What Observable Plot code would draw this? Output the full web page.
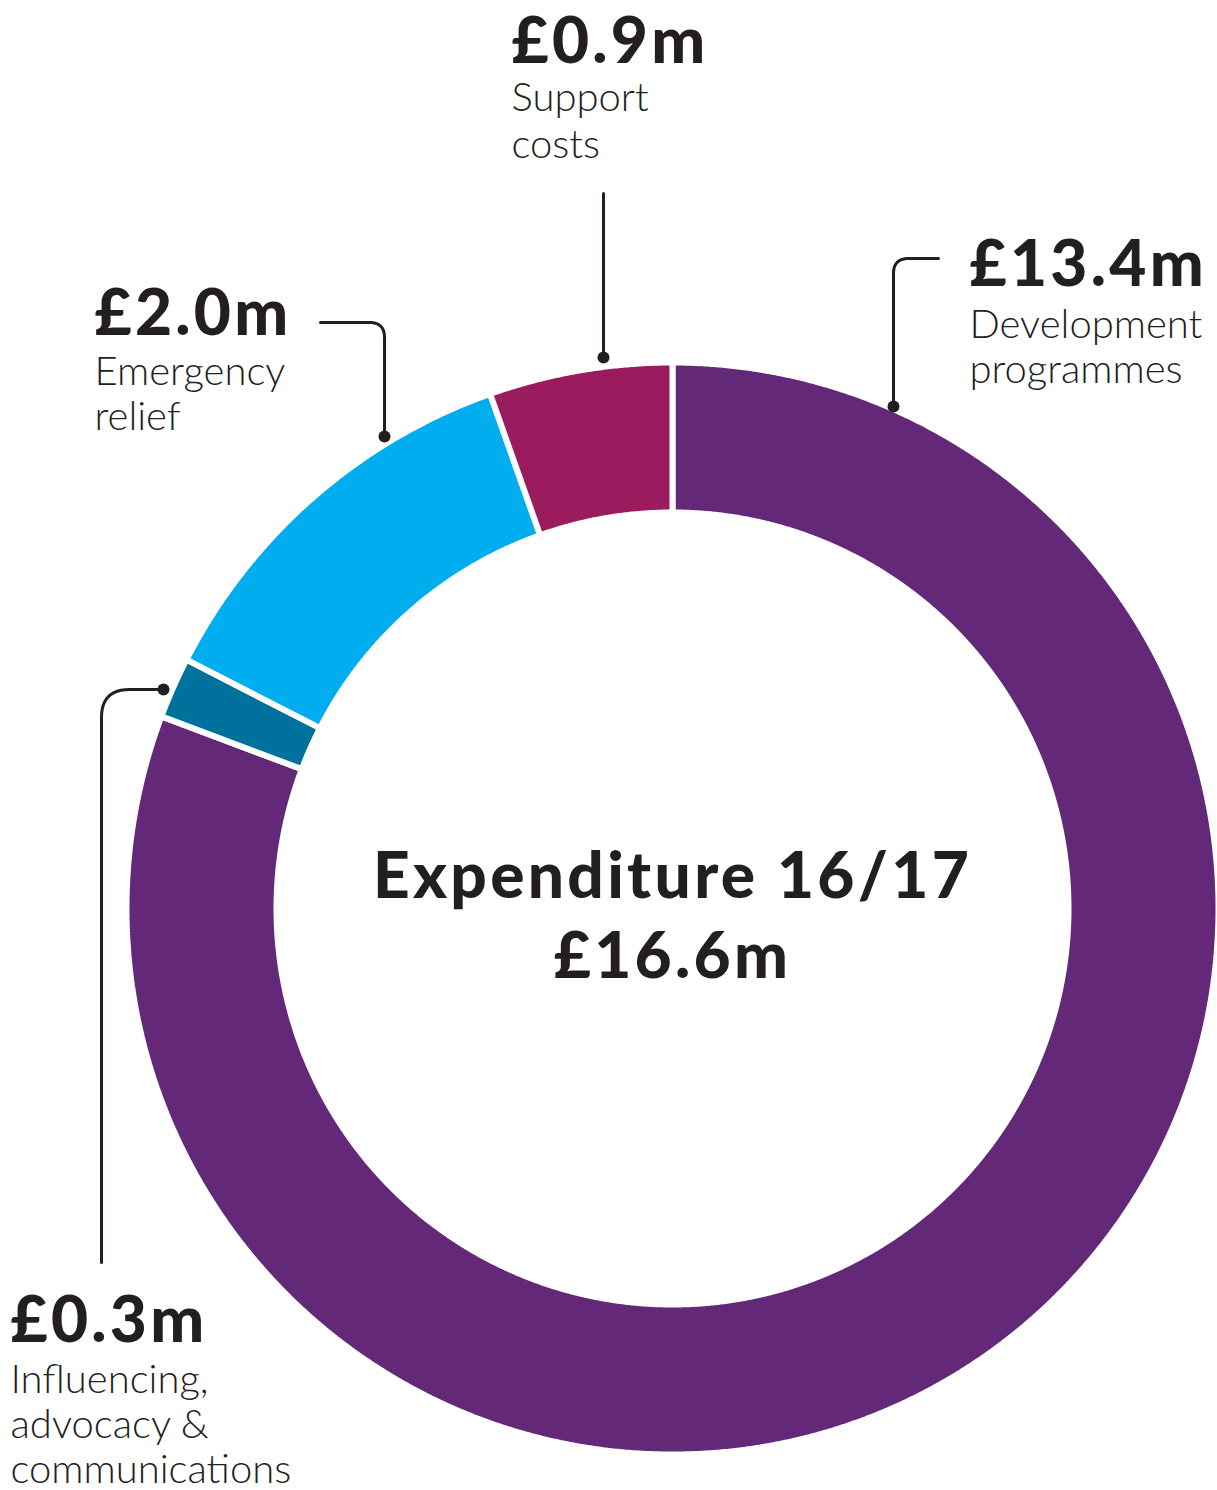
<!DOCTYPE html>
<html>
<head>
<meta charset="utf-8">
<script src="https://cdn.jsdelivr.net/npm/d3@7"></script>
<script src="https://cdn.jsdelivr.net/npm/@observablehq/plot@0.6"></script>
<style>
  html, body { margin: 0; padding: 0; background: #ffffff; }
  #chart svg { display: block; }
</style>
</head>
<body>
<div id="chart"></div>
<script>
// ---------- data ----------
const categories = [
  "Development programmes",
  "Influencing, advocacy & communications",
  "Emergency relief",
  "Support costs"
];
const values = [13.4, 0.3, 2.0, 0.9];            // £m
const valueLabels = ["£13.4m", "£0.3m", "£2.0m", "£0.9m"];
const subLabels = [
  ["Development", "programmes"],
  ["Influencing,", "advocacy &", "communications"],
  ["Emergency", "relief"],
  ["Support", "costs"]
];
const colors = ["#642878", "#00719c", "#00adee", "#9a1c5f"];
const centerTitle = "Expenditure 16/17";
const totalLabel = "£16.6m";

// ---------- layout (pixels) ----------
const W = 1217, H = 1490;
const cx = 672, cy = 908;
const rOuter = 546, rInner = 396, gap = 6;
const ink = "#231f20";

// label blocks: left x, value baseline, first sub baseline, sub line step
const labelLayout = [
  {x: 969, yValue: 285, ySub: 337, step: 45},
  {x: 10,  yValue: 1341, ySub: 1392, step: 45},
  {x: 94,  yValue: 334, ySub: 384, step: 45},
  {x: 511, yValue: 62,  ySub: 110, step: 47}
];
// leader lines: vertices (px), corner radius, dot at first vertex
const leaderLayout = [
  {pts: [[893, 406], [893, 258], [938, 258]], r: 15},
  {pts: [[163, 689], [101, 689], [101, 1262]], r: 28},
  {pts: [[384, 436], [384, 322], [320, 322]], r: 15},
  {pts: [[603, 357], [603, 193]], r: 0}
];

// ---------- build ring polygons ----------
const data = categories.map((c, i) => ({category: c, value: values[i]}));
const arcs = d3.pie().sort(null).value(d => d.value)(data);
const ringPts = [];
for (const a of arcs) {
  const n = Math.max(4, Math.ceil((a.endAngle - a.startAngle) / 0.004));
  const poly = [];
  for (let k = 0; k <= n; k++) {
    const t = a.startAngle + (a.endAngle - a.startAngle) * k / n;
    poly.push([rOuter * Math.sin(t), -rOuter * Math.cos(t)]);
  }
  for (let k = n; k >= 0; k--) {
    const t = a.startAngle + (a.endAngle - a.startAngle) * k / n;
    poly.push([rInner * Math.sin(t), -rInner * Math.cos(t)]);
  }
  poly.push(poly[0]);
  for (const [x, y] of poly) ringPts.push({category: a.data.category, x, y});
}

// ---------- leader lines ----------
const leaderPts = [], dotPts = [];
leaderLayout.forEach((L, i) => {
  const P = L.pts.map(([x, y]) => [x - cx, y - cy]);
  dotPts.push({x: P[0][0], y: P[0][1]});
  const out = [P[0]];
  for (let k = 1; k < P.length - 1; k++) {
    const [a, b, c] = [P[k - 1], P[k], P[k + 1]];
    const d1 = Math.hypot(b[0] - a[0], b[1] - a[1]);
    const d2 = Math.hypot(c[0] - b[0], c[1] - b[1]);
    const s = [b[0] - (b[0] - a[0]) / d1 * L.r, b[1] - (b[1] - a[1]) / d1 * L.r];
    const e = [b[0] + (c[0] - b[0]) / d2 * L.r, b[1] + (c[1] - b[1]) / d2 * L.r];
    for (let j = 0; j <= 12; j++) {
      const t = j / 12;
      out.push([
        (1 - t) * (1 - t) * s[0] + 2 * (1 - t) * t * b[0] + t * t * e[0],
        (1 - t) * (1 - t) * s[1] + 2 * (1 - t) * t * b[1] + t * t * e[1]
      ]);
    }
  }
  out.push(P[P.length - 1]);
  for (const [x, y] of out) leaderPts.push({id: i, x, y});
});

// ---------- labels ----------
const valueText = labelLayout.map((L, i) => ({x: L.x - cx, y: L.yValue - cy, text: valueLabels[i]}));
const subText = [];
labelLayout.forEach((L, i) => {
  subLabels[i].forEach((t, j) => subText.push({x: L.x - cx, y: L.ySub + j * L.step - cy, text: t}));
});
const centerText = [
  {x: 0, y: 897 - cy, text: centerTitle},
  {x: 0, y: 977 - cy, text: totalLabel}
];

const chart = Plot.plot({
  width: W,
  height: H,
  margin: 0,
  x: {domain: [-cx, W - cx], range: [0, W], axis: null},
  y: {domain: [-cy, H - cy], range: [0, H], axis: null},
  color: {domain: categories, range: colors},
  style: {fontFamily: "Lato, 'Open Sans', sans-serif", background: "#ffffff", color: ink},
  marks: [
    Plot.line(ringPts, {x: "x", y: "y", z: "category", fill: "category",
      stroke: "#ffffff", strokeWidth: gap, strokeLinejoin: "miter", curve: "linear"}),
    Plot.line(leaderPts, {x: "x", y: "y", z: "id", stroke: ink, strokeWidth: 3, curve: "linear"}),
    Plot.dot(dotPts, {x: "x", y: "y", r: 6, fill: ink, stroke: null}),
    Plot.text(valueText, {x: "x", y: "y", text: "text", textAnchor: "start", lineAnchor: "bottom",
      fontSize: 64, fontWeight: 900, fill: ink}),
    Plot.text(subText, {x: "x", y: "y", text: "text", textAnchor: "start", lineAnchor: "bottom",
      fontSize: 40, fontWeight: 300, fill: ink}),
    Plot.text(centerText, {x: "x", y: "y", text: "text", textAnchor: "middle", lineAnchor: "bottom",
      fontSize: 64, fontWeight: 900, fill: ink})
  ]
});
// wider tracking on the heavy labels (value labels = 1st text group, centre = 3rd)
const textGroups = chart.querySelectorAll('g[aria-label="text"]');
[0, 2].forEach(k => { if (textGroups[k]) textGroups[k].style.letterSpacing = "3.3px"; });
document.getElementById("chart").appendChild(chart);
</script>
</body>
</html>
